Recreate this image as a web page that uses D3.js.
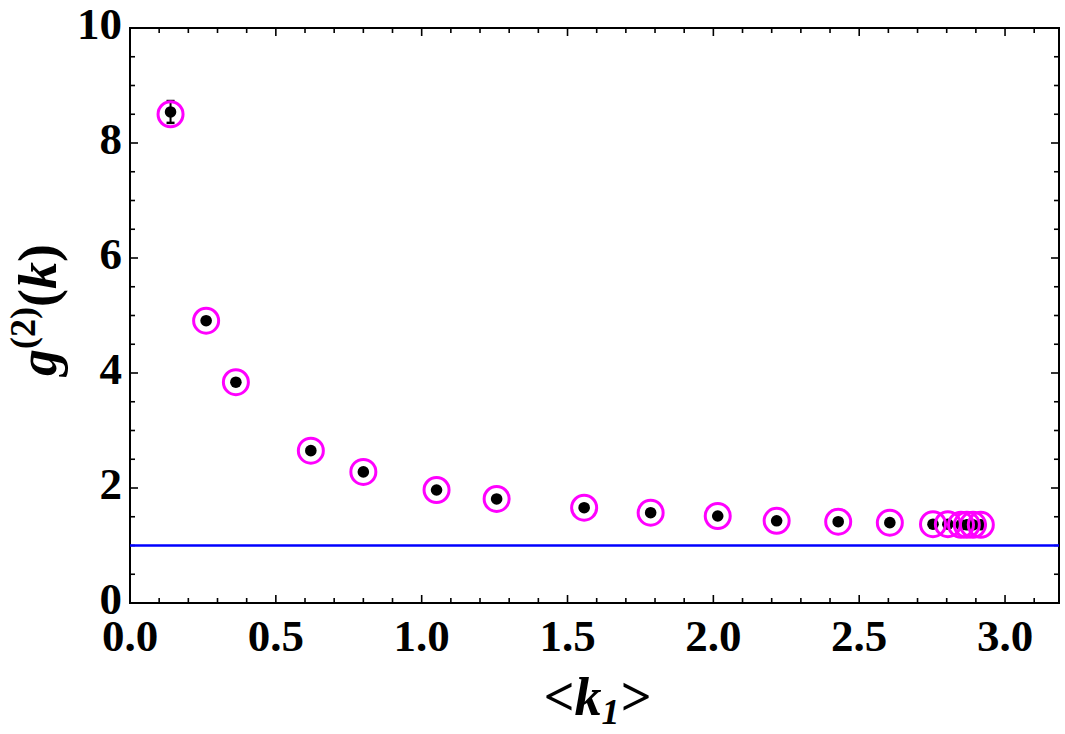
<!DOCTYPE html>
<html>
<head>
<meta charset="utf-8">
<script src="https://d3js.org/d3.v7.min.js"></script>
<style>
  body { margin: 0; background: #fff; }
  text { font-family: "Liberation Serif", "DejaVu Serif", serif; }
</style>
</head>
<body>
<svg id="chart" width="1065" height="734"></svg>
<script>
// measured points (black dots) and model points (magenta rings)
const kMean = [0.139, 0.261, 0.363, 0.62, 0.80, 1.051, 1.257, 1.557, 1.785, 2.015, 2.217, 2.428, 2.605, 2.753, 2.804, 2.849, 2.869, 2.890, 2.917]
const g2Meas = [8.54, 4.91, 3.84, 2.65, 2.28, 1.965, 1.81, 1.657, 1.57, 1.513, 1.43, 1.414, 1.397, 1.37, 1.37, 1.36, 1.36, 1.36, 1.36]
const g2Err = [0.19, 0, 0, 0, 0, 0, 0, 0, 0, 0, 0, 0, 0, 0, 0, 0, 0, 0, 0]
const g2Model = [8.50, 4.91, 3.84, 2.65, 2.28, 1.965, 1.81, 1.657, 1.57, 1.513, 1.43, 1.414, 1.397, 1.37, 1.37, 1.36, 1.36, 1.36, 1.36]
const xTicks = [0, 0.5, 1.0, 1.5, 2.0, 2.5, 3.0]
const yTicks = [0, 2, 4, 6, 8, 10]
const baseline = 1

const svg = d3.select("#chart")
const margin = {left: 130, right: 6, top: 28, bottom: 131}
const W = 1065, H = 734

const x = d3.scaleLinear().domain([0, 3.185]).range([margin.left, W - margin.right])
const y = d3.scaleLinear().domain([0, 10]).range([H - margin.bottom, margin.top])

const pts = kMean.map((k, i) => ({k, m: g2Meas[i], e: g2Err[i], g: g2Model[i]}))

// ticks (inward, mirrored on all sides)
const xMinor = d3.range(0, 3.19, 0.1)
const yMinor = d3.range(0, 10.01, 0.5)
const isMajorX = v => Math.abs(v * 2 - Math.round(v * 2)) < 1e-6
const isMajorY = v => Math.abs(v / 2 - Math.round(v / 2)) < 1e-6

const tk = svg.append("g").attr("stroke", "#000").attr("stroke-width", 1.6)
xMinor.forEach(v => {
  const len = isMajorX(v) ? 8 : 5
  tk.append("line").attr("x1", x(v)).attr("x2", x(v)).attr("y1", y(0)).attr("y2", y(0) - len)
  tk.append("line").attr("x1", x(v)).attr("x2", x(v)).attr("y1", y(10)).attr("y2", y(10) + len)
})
yMinor.forEach(v => {
  const len = isMajorY(v) ? 8 : 5
  tk.append("line").attr("y1", y(v)).attr("y2", y(v)).attr("x1", x.range()[0]).attr("x2", x.range()[0] + len)
  tk.append("line").attr("y1", y(v)).attr("y2", y(v)).attr("x1", x.range()[1]).attr("x2", x.range()[1] - len)
})

// frame
svg.append("rect")
  .attr("x", x.range()[0]).attr("y", y(10))
  .attr("width", x.range()[1] - x.range()[0]).attr("height", y(0) - y(10))
  .attr("fill", "none").attr("stroke", "#000").attr("stroke-width", 2)

// tick labels
svg.selectAll(".xl").data(xTicks).enter().append("text")
  .attr("class", "xl")
  .attr("x", d => x(d)).attr("y", 651)
  .attr("text-anchor", "middle")
  .attr("font-size", 45).attr("font-weight", "bold")
  .text(d => d.toFixed(1))

svg.selectAll(".yl").data(yTicks).enter().append("text")
  .attr("class", "yl")
  .attr("x", 122).attr("y", d => y(d) + 11)
  .attr("text-anchor", "end")
  .attr("font-size", 45).attr("font-weight", "bold")
  .text(d => d)

// reference line g2 = 1
svg.append("line")
  .attr("x1", x.range()[0]).attr("x2", x.range()[1])
  .attr("y1", y(baseline)).attr("y2", y(baseline))
  .attr("stroke", "#0000ff").attr("stroke-width", 2.7)

// error bars
const eb = svg.append("g").attr("stroke", "#000")
pts.filter(d => d.e > 0).forEach(d => {
  eb.append("line").attr("x1", x(d.k)).attr("x2", x(d.k)).attr("y1", y(d.m - d.e)).attr("y2", y(d.m + d.e)).attr("stroke-width", 2)
  ;[d.m - d.e, d.m + d.e].forEach(v => {
    eb.append("line").attr("x1", x(d.k) - 4).attr("x2", x(d.k) + 4).attr("y1", y(v)).attr("y2", y(v)).attr("stroke-width", 2.5)
  })
})

// black dots
svg.selectAll(".dot").data(pts).enter().append("circle")
  .attr("class", "dot")
  .attr("cx", d => x(d.k)).attr("cy", d => y(d.m))
  .attr("r", 5.8).attr("fill", "#000")

// magenta rings
svg.selectAll(".ring").data(pts).enter().append("circle")
  .attr("class", "ring")
  .attr("cx", d => x(d.k)).attr("cy", d => y(d.g))
  .attr("r", 12.5).attr("fill", "none")
  .attr("stroke", "#ff00ff").attr("stroke-width", 3)

// axis titles
const yt = svg.append("text")
  .attr("transform", "translate(56,310) rotate(-90)")
  .attr("text-anchor", "middle")
  .attr("font-size", 54).attr("font-weight", "bold")
yt.append("tspan").attr("font-style", "italic").text("g")
yt.append("tspan").attr("font-size", 36).attr("dy", -21).text("(2)")
yt.append("tspan").attr("dy", 21).text("(")
yt.append("tspan").attr("font-style", "italic").text("k")
yt.append("tspan").text(")")

const xt = svg.append("text")
  .attr("x", 597).attr("y", 715)
  .attr("text-anchor", "middle")
  .attr("font-size", 54).attr("font-weight", "bold").attr("font-style", "italic")
xt.append("tspan").text("<k")
xt.append("tspan").attr("font-size", 36).attr("dy", 9).text("1")
xt.append("tspan").attr("dy", -9).text(">")
</script>
</body>
</html>
